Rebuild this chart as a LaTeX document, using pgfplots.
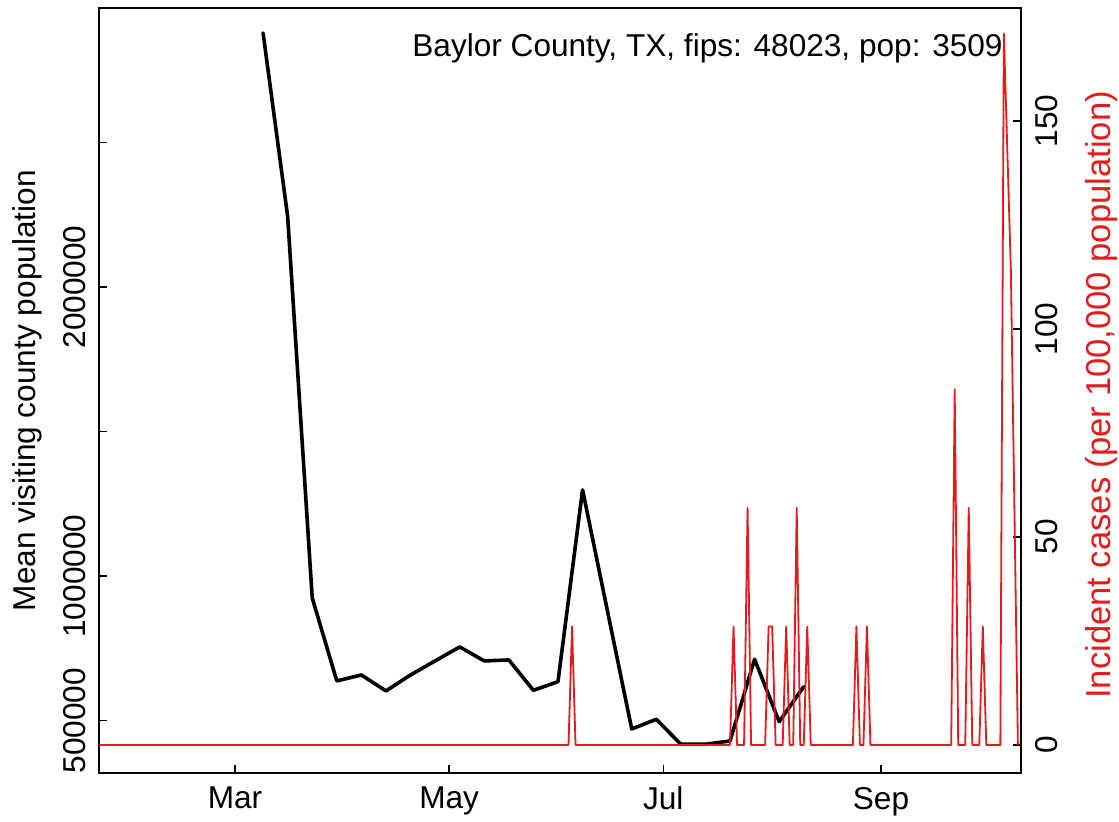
\documentclass[border=0pt]{standalone}
\usepackage{fontspec}
\setmainfont{Liberation Sans}
\usepackage{pgfplots}
\usepackage{pgfplotstable}
\pgfplotsset{compat=1.18}
\definecolor{rred}{HTML}{E41A1C}
\newcommand\fs{\fontsize{15.8pt}{19pt}\selectfont}

% day = days since 1 Jan 2020
\pgfplotstableread{
day visits
68 2878500
75 2243900
82 924600
89 637400
96 658100
103 602800
110 658100
117 706600
124 755000
131 706600
138 710000
145 605000
152 634900
159 1298300
173 471300
180 504800
187 418300
194 418300
201 429800
208 712500
215 496500
222 617600
}\visits

\pgfplotstableread{
day cases
21 0
155 0
156 28.5
157 0
201 0
202 28.5
203 0
205 0
206 57
207 0
211 0
212 28.5
213 28.5
214 0
216 0
217 28.5
218 0
219 0
220 57
221 0
222 0
223 28.5
224 0
236 0
237 28.5
238 0
239 0
240 28.5
241 0
264 0
265 85.5
266 0
268 0
269 57
270 0
272 0
273 28.5
274 0
278 0
279 171
280 142.5
281 114
282 57
283 0
}\cases

\pgfplotsset{
  every tick label/.append style={font=\fs},
  /pgf/number format/assume math mode=true,
}

\begin{document}
\begin{tikzpicture}[font=\fs]
\useasboundingbox (-49.65pt,-24.35pt) rectangle (509.85pt,386.65pt);
\begin{axis}[
  at={(0pt,0pt)}, anchor=south west, scale only axis,
  width=460.7pt, height=382.65pt,
  xmin=21.35, xmax=283.8,
  ymin=318000, ymax=2965000,
  xtick={60,121,182,244}, xticklabels={Mar,May,Jul,Sep},
  ytick={500000,1000000,1500000,2000000,2500000},
  yticklabels={500000,1000000,,2000000,},
  xtick pos=left, ytick pos=left,
  tick align=inside,
  major tick length=4pt,
  axis line style={line width=0.8pt},
  every tick/.style={black, line width=0.8pt},
  xticklabel style={anchor=north, inner sep=0pt},
  xticklabel shift=6.7pt,
  yticklabel style={rotate=90, anchor=south, inner sep=0pt},
  yticklabel shift=6.3pt,
  scaled y ticks=false,
]
\addplot[black, line width=1.8pt, line join=round, line cap=round] table[x=day, y=visits] {\visits};
\end{axis}
\begin{axis}[
  at={(0pt,0pt)}, anchor=south west, scale only axis,
  width=460.7pt, height=382.65pt,
  xmin=21.35, xmax=283.8,
  ymin=-6.8, ymax=177.16,
  axis x line=none,
  axis y line*=right,
  ytick={0,50,100,150},
  tick align=inside,
  major tick length=4pt,
  axis line style={line width=0.8pt},
  every tick/.style={black, line width=0.8pt},
  yticklabel style={rotate=90, anchor=north, inner sep=0pt},
  yticklabel shift=7.15pt,
]
\addplot[rred, line width=0.9pt, line join=round] table[x=day, y=cases] {\cases};
\end{axis}
\node[anchor=base east, inner sep=0pt] at (451.85pt,358.5pt) {Baylor County, TX, fips: 48023, pop: 3509};
\node[rotate=90, anchor=base, inner sep=0pt] at (-31.9pt,191.3pt) {Mean visiting county population};
\node[rotate=90, anchor=base, inner sep=0pt, text=rred, font=\fontsize{17.3pt}{20pt}\selectfont] at (505.6pt,189.2pt) {Incident cases (per 100,000 population)};
\end{tikzpicture}
\end{document}
